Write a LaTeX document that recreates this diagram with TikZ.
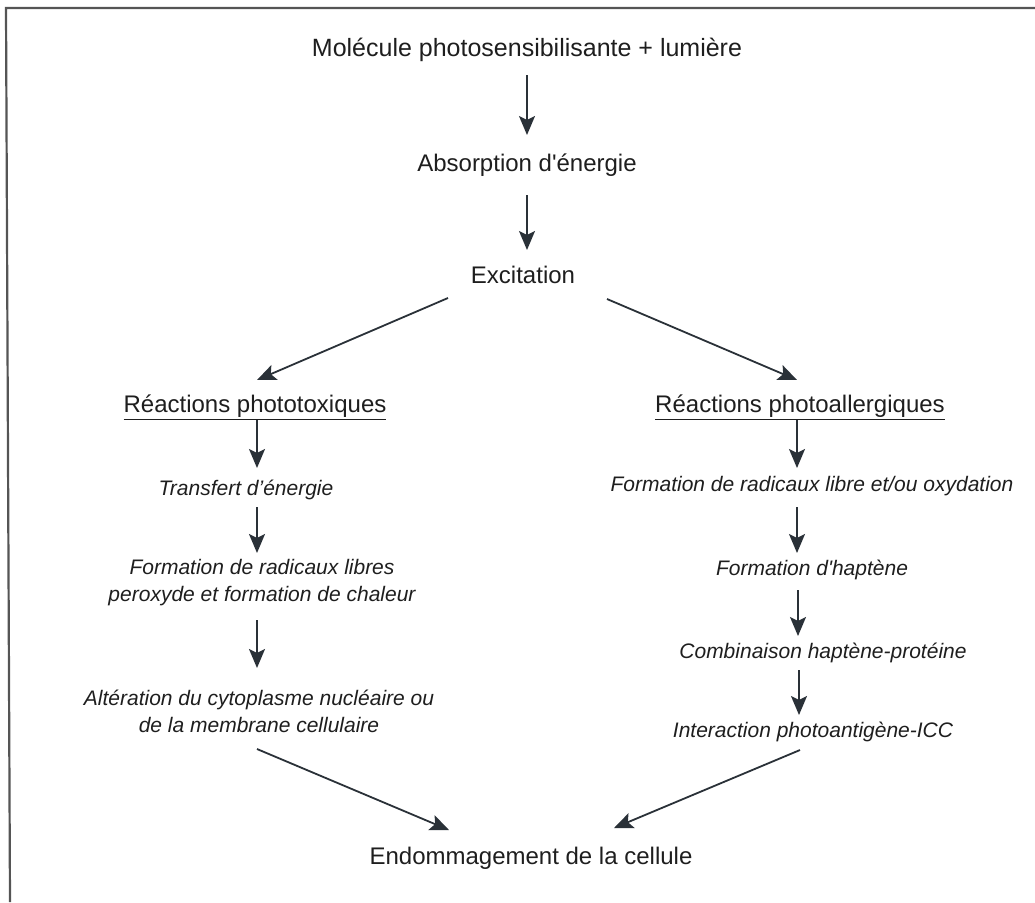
\documentclass[tikz,border=0pt]{standalone}
\usepackage{fontspec}
\setmainfont{Liberation Sans}
\usetikzlibrary{arrows.meta,calc}
\definecolor{ink}{HTML}{1E1E1E}
\definecolor{arrowink}{HTML}{2A3138}
\definecolor{framegray}{HTML}{555555}
\tikzset{
  main/.style={font=\fontsize{24}{27}\selectfont, text=ink, inner sep=0pt, align=center},
  title/.style={font=\fontsize{25}{28}\selectfont, text=ink, inner sep=0pt, align=center},
  stage/.style={font=\fontsize{21}{27}\selectfont\itshape, text=ink, inner sep=0pt, align=center},
  arr/.style={draw=arrowink, line width=1.8pt, -{Stealth[length=19pt,width=16pt,inset=4pt]}},
}
\begin{document}
\begin{tikzpicture}[x=1pt,y=-1pt]
\useasboundingbox (0,0) rectangle (1035,902);
\draw[framegray, line width=2.2pt] (1035,8) -- (6,8) -- (10,902);

\node[title] (mol) at (527,50) {Molécule photosensibilisante + lumière};
\node[main] (abs) at (527,165) {Absorption d\textquotesingle énergie};
\node[main] (exc) at (523,275) {Excitation};
\node[main] (tox) at (255,407) {\underline{Réactions phototoxiques}};
\node[main] (all) at (800,407) {\underline{Réactions photoallergiques}};
\node[stage] (t1) at (246,490) {Transfert d’énergie};
\node[stage] (t2) at (262,583) {Formation de radicaux libres\\peroxyde et formation de chaleur};
\node[stage] (t3) at (259,711) {Altération du cytoplasme nucléaire ou\\de la membrane cellulaire};
\node[stage] (a1) at (812,486) {Formation de radicaux libre et/ou oxydation};
\node[stage] (a2) at (812,570) {Formation d\textquotesingle haptène};
\node[stage] (a3) at (823,653) {Combinaison haptène-protéine};
\node[stage] (a4) at (813,732) {Interaction photoantigène-ICC};
\node[main] (end) at (531,858) {Endommagement de la cellule};

\draw[arr] ($(mol)+(0,25)$) -- ($(abs)+(0,-30)$);
\draw[arr] ($(abs)+(0,30)$) -- ($(exc)+(4,-25)$);
\draw[arr] ($(exc)+(-75,23)$) -- ($(tox)+(2,-27)$);
\draw[arr] ($(exc)+(84,24)$) -- ($(all)+(-3,-27)$);
\draw[arr] ($(tox)+(2,13)$) -- ($(t1)+(11,-22)$);
\draw[arr] ($(t1)+(11,17)$) -- ($(t2)+(-5,-30)$);
\draw[arr] ($(t2)+(-5,37)$) -- ($(t3)+(-2,-43)$);
\draw[arr] ($(all)+(-3,13)$) -- ($(a1)+(-15,-18)$);
\draw[arr] ($(a1)+(-15,21)$) -- ($(a2)+(-15,-17)$);
\draw[arr] ($(a2)+(-14,20)$) -- ($(a3)+(-25,-17)$);
\draw[arr] ($(a3)+(-24,17)$) -- ($(a4)+(-14,-17)$);
\draw[arr] ($(t3)+(-2,38)$) -- ($(end)+(-82,-28)$);
\draw[arr] ($(a4)+(-13,18)$) -- ($(end)+(83,-30)$);
\end{tikzpicture}
\end{document}
